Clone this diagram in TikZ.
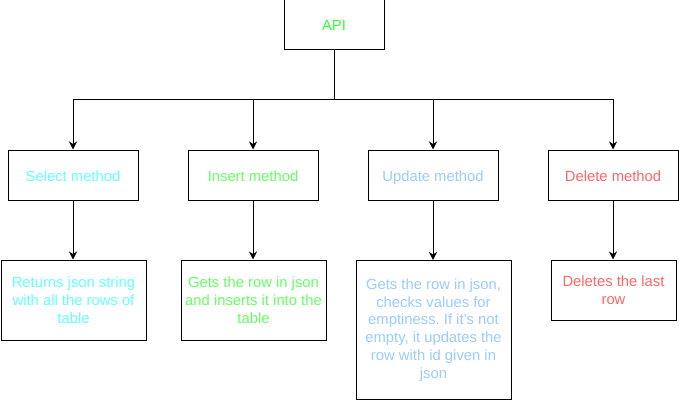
\documentclass[tikz,border=0pt]{standalone}
\usepackage{fontspec}
\setmainfont{Liberation Sans}
\usetikzlibrary{arrows.meta}
\frenchspacing
\definecolor{apigreen}{HTML}{33FF33}
\definecolor{selcol}{HTML}{66FFFF}
\definecolor{inscol}{HTML}{66FF66}
\definecolor{updcol}{HTML}{99CCFF}
\definecolor{delcol}{HTML}{FF6666}
\tikzset{
  box/.style={draw=black, line width=1pt, fill=white, inner sep=0pt, align=center,
    font=\fontsize{14.8}{17.8}\selectfont\frenchspacing},
  onel/.style={box, text height=12.5pt, text depth=0.5pt},
  arr/.style={draw=black, line width=1pt, -{Stealth[length=8pt,width=8pt,inset=2.5pt]}},
  conn/.style={draw=black, line width=1pt}
}
\begin{document}
\begin{tikzpicture}[x=1pt,y=-1pt]
\useasboundingbox (0,0) rectangle (679,401);
% top
\node[onel, minimum width=100pt, minimum height=50pt, text=apigreen] (api) at (334,25) {API};
% methods
\node[onel, minimum width=130pt, minimum height=50pt, text=selcol] (sel) at (73,175) {Select method};
\node[onel, minimum width=130pt, minimum height=50pt, text=inscol] (ins) at (253,175) {Insert method};
\node[onel, minimum width=130pt, minimum height=50pt, text=updcol] (upd) at (433,175) {Update method};
\node[onel, minimum width=130pt, minimum height=50pt, text=delcol] (del) at (613,175) {Delete method};
% descriptions
\node[box, minimum width=145pt, minimum height=80pt, text=selcol] (seld) at (73.5,300) {Returns json string\\with all the rows of\\table};
\node[box, minimum width=145pt, minimum height=80pt, text=inscol] (insd) at (253.5,300) {Gets the row in json\\and inserts it into the\\table};
\node[box, minimum width=155pt, minimum height=139pt, text=updcol] (updd) at (433.5,330) {Gets the row in json,\\checks values for\\emptiness. If it's not\\empty, it updates the\\row with id given in\\json};
\node[box, minimum width=125pt, minimum height=60pt, text=delcol] (deld) at (613.5,290) {Deletes the last\\row};
% connectors
\coordinate (bus) at (334,100);
\draw[conn] (api.south) -- (bus);
\draw[arr] (bus) -| (sel.north);
\draw[arr] (bus) -| (ins.north);
\draw[arr] (bus) -| (upd.north);
\draw[arr] (bus) -| (del.north);
\draw[arr] (sel.south) -- (sel.south |- seld.north);
\draw[arr] (ins.south) -- (ins.south |- insd.north);
\draw[arr] (upd.south) -- (upd.south |- updd.north);
\draw[arr] (del.south) -- (del.south |- deld.north);
\end{tikzpicture}
\end{document}
